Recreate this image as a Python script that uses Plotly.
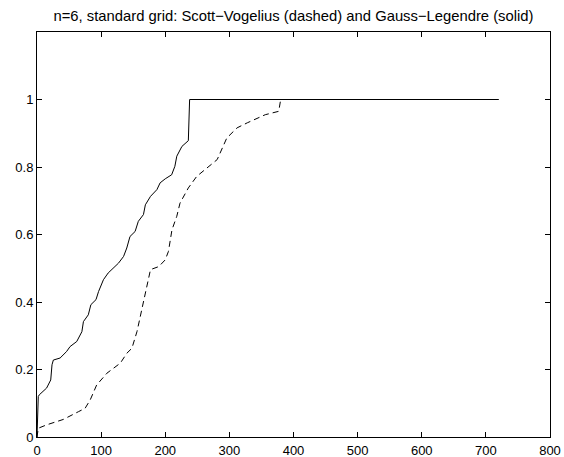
import plotly.graph_objects as go

# Gauss-Legendre (solid)
gl_x = [0, 2, 3.6, 15, 21.4, 23.4, 25.5, 36, 46, 51.6, 62, 70, 72.4, 80, 84, 92, 96, 103.6, 111, 119, 127,
        135, 140, 145, 153, 158, 166, 169, 177, 187, 192, 200, 210, 215, 218, 226, 234, 236, 238, 720]
gl_y = [0, 0.12, 0.125, 0.145, 0.169, 0.214, 0.228, 0.234, 0.253, 0.268, 0.283, 0.312, 0.342, 0.362, 0.392,
        0.407, 0.431, 0.466, 0.486, 0.500, 0.515, 0.535, 0.560, 0.594, 0.609, 0.639, 0.659, 0.688, 0.713,
        0.733, 0.753, 0.765, 0.777, 0.802, 0.832, 0.861, 0.876, 0.878, 1.0, 1.0]

# Scott-Vogelius (dashed)
sv_x = [0, 2, 15, 41, 64.6, 75, 83, 93, 109, 130, 140, 148, 156, 166, 174, 177, 190, 200, 205, 210.5,
        218, 223, 236, 249, 265, 281, 296, 312, 328, 345, 356, 377, 380, 720]
sv_y = [0, 0.026, 0.036, 0.052, 0.075, 0.085, 0.11, 0.154, 0.189, 0.219, 0.248, 0.263, 0.313, 0.397,
        0.466, 0.496, 0.505, 0.525, 0.55, 0.614, 0.654, 0.693, 0.738, 0.772, 0.797, 0.822, 0.886, 0.916,
        0.931, 0.945, 0.955, 0.965, 1.0, 1.0]

x_ticks = [0, 100, 200, 300, 400, 500, 600, 700, 800]
y_ticks = [0, 0.2, 0.4, 0.6, 0.8, 1]
y_tick_text = ["0", "0.2", "0.4", "0.6", "0.8", "1"]

fig = go.Figure()
fig.add_trace(go.Scatter(x=sv_x, y=sv_y, mode="lines",
                         line=dict(color="black", width=1, dash="6px,4px"), showlegend=False))
fig.add_trace(go.Scatter(x=gl_x, y=gl_y, mode="lines",
                         line=dict(color="black", width=1), showlegend=False))

axis_common = dict(showgrid=False, zeroline=False, showline=True, linecolor="black", linewidth=1,
                   mirror="ticks", ticks="inside", ticklen=5, tickcolor="black", automargin=False,
                   tickfont=dict(family="Liberation Sans, Arial, sans-serif", size=13, color="black"))

fig.update_layout(
    width=564, height=457,
    margin=dict(l=37, r=14, t=32, b=20),
    paper_bgcolor="white", plot_bgcolor="white",
    title=dict(text="n=6, standard grid: Scott\u2212Vogelius (dashed) and Gauss\u2212Legendre (solid)",
               x=0.5, xref="paper", xanchor="center", y=0.966, yref="container", yanchor="middle",
               automargin=False,
               font=dict(family="Liberation Sans, Arial, sans-serif", size=14.8, color="black")),
    xaxis=dict(range=[0, 800], tickvals=x_ticks, ticklabelstandoff=1, **axis_common),
    yaxis=dict(range=[0, 1.2], tickvals=y_ticks, ticktext=y_tick_text, **axis_common),
)

fig.write_html("out.html")
